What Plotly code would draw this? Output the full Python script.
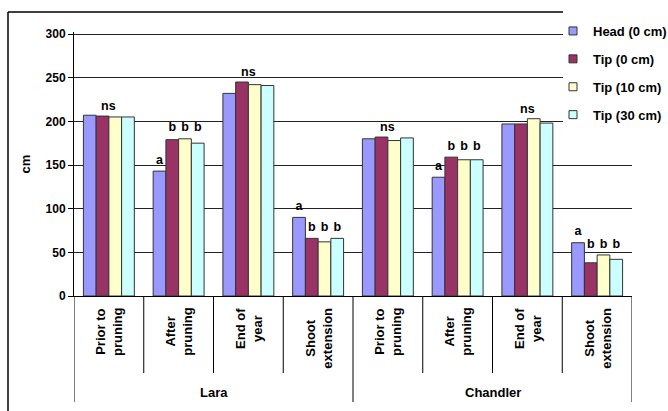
import plotly.graph_objects as go

groups = ["Lara"] * 4 + ["Chandler"] * 4
stage_names = ["Prior to<br>pruning", "After<br>pruning", "End of<br>year", "Shoot<br>extension"]
stages = stage_names * 2
cultivars = ["Lara", "Chandler"]
series_names = ["Head (0 cm)", "Tip (0 cm)", "Tip (10 cm)", "Tip (30 cm)"]
head_0 = [207, 143, 232, 90, 180, 136, 197, 61]
tip_0 = [206, 179, 245, 66, 182, 159, 197, 38]
tip_10 = [205, 180, 242, 62, 178, 156, 203, 47]
tip_30 = [205, 175, 241, 66, 181, 156, 198, 42]
head_letters = ["", "a", "", "a", "", "a", "", "a"]
tip_letters = ["", "b", "", "b", "", "b", "", "b"]
group_labels = ["ns", "", "ns", "", "ns", "", "ns", ""]

colors = ["#9999FF", "#993366", "#FFFFCC", "#CCFFFF"]
values = [head_0, tip_0, tip_10, tip_30]

W, H = 668, 411
L, R, T, B = 74, 36, 32, 115
PW, PH = W - L - R, H - T - B
YMAX = 300 * PH / 262.0


def px_x(px):
    return (px - L) / PW


def px_y(py):
    return (H - B - py) / PH


FONT = "Liberation Sans"
fig = go.Figure()
for i, (name, vals, col) in enumerate(zip(series_names, values, colors)):
    fig.add_trace(go.Bar(
        x=[groups, stages], y=vals, name=name,
        marker=dict(color=col, line=dict(color="#333333", width=1)),
        offsetgroup=str(i), showlegend=False,
    ))

# significance letters, one text trace per series, aligned with the bars
tip_max = [max(b, c, d) for b, c, d in zip(tip_0, tip_10, tip_30)]
for i in range(4):
    lt = head_letters if i == 0 else tip_letters
    ref = head_0 if i == 0 else tip_max
    fig.add_trace(go.Scatter(
        x=[groups, stages], y=[r + 12 for r in ref], mode="text", text=lt,
        textposition="middle center", offsetgroup=str(i), showlegend=False,
        textfont=dict(family=FONT, size=12.5, color="black", weight="bold"),
        cliponaxis=False, hoverinfo="skip",
    ))

# legend entries (small square keys)
for name, col in zip(series_names, colors):
    fig.add_trace(go.Scatter(
        x=[None], y=[None], mode="markers", name=name,
        marker=dict(symbol="square", size=8, color=col, line=dict(color="#333333", width=1)),
        legendgroup=name,
    ))

annotations = []
all_max = [max(v) for v in zip(*values)]
for k, lab in enumerate(group_labels):
    if lab:
        annotations.append(dict(x=k, y=all_max[k] + 11, xref="x", yref="y", text=lab,
                                showarrow=False, font=dict(family=FONT, size=12.5, weight="bold")))
# category labels (rotated, centred lines)
for k, lab in enumerate(stages):
    annotations.append(dict(x=k, y=px_y(306), xref="x", yref="paper", text=lab, textangle=-90,
                            showarrow=False, align="center", xanchor="center", yanchor="top",
                            font=dict(family=FONT, size=13, weight="bold")))
for j, cv in enumerate(cultivars):
    annotations.append(dict(x=4 * j + 1.5, y=px_y(392), xref="x", yref="paper", text=cv,
                            showarrow=False, yanchor="middle",
                            font=dict(family=FONT, size=13, weight="bold")))

shapes = []
# white box behind legend (legend overlaps plot area)
shapes.append(dict(type="rect", xref="paper", yref="paper", x0=px_x(563), x1=px_x(700),
                   y0=px_y(140), y1=px_y(0), fillcolor="white", line=dict(width=0), layer="above"))
# outer chart frame (clipped at the right by the legend)
shapes.append(dict(type="line", xref="paper", yref="paper", x0=px_x(8), x1=px_x(563),
                   y0=px_y(12), y1=px_y(12), line=dict(color="black", width=1.5), layer="above"))
shapes.append(dict(type="line", xref="paper", yref="paper", x0=px_x(8), x1=px_x(8),
                   y0=px_y(12), y1=px_y(420), line=dict(color="black", width=1.5), layer="above"))
# category dividers
for k in range(len(stages) + 1):
    outer = (k % 4 == 0)
    shapes.append(dict(type="line", xref="x", yref="paper", x0=k - 0.5, x1=k - 0.5,
                       y0=0, y1=px_y(402 if outer else 373),
                       line=dict(color="black", width=1)))

fig.update_layout(
    width=W, height=H,
    margin=dict(l=L, r=R, t=T, b=B, autoexpand=False),
    paper_bgcolor="white", plot_bgcolor="white",
    barmode="group", bargap=0.27, bargroupgap=0,
    scattermode="group", scattergap=0.27,
    font=dict(family=FONT, size=12, color="black"),
    showlegend=True,
    legend=dict(
        x=px_x(553), y=px_y(16), xanchor="left", yanchor="top",
        bgcolor="rgba(0,0,0,0)", font=dict(size=13, family=FONT, weight="bold"),
        traceorder="grouped", tracegroupgap=8,
    ),
    xaxis=dict(
        type="multicategory", range=[-0.5, len(stages) - 0.5],
        showline=True, linecolor="black", linewidth=1,
        showticklabels=False, showdividers=False, ticks="",
    ),
    yaxis=dict(
        range=[0, YMAX], tickvals=[0, 50, 100, 150, 200, 250, 300], showgrid=True,
        gridcolor="#222222", gridwidth=1,
        showline=True, linecolor="black", ticks="outside", ticklen=5, tickcolor="black",
        tickfont=dict(size=12, family=FONT, weight="bold"),
        title=dict(text="cm", font=dict(size=13, weight="bold"), standoff=12),
        zeroline=False,
    ),
    annotations=annotations,
    shapes=shapes,
)
fig.write_html("out.html")
